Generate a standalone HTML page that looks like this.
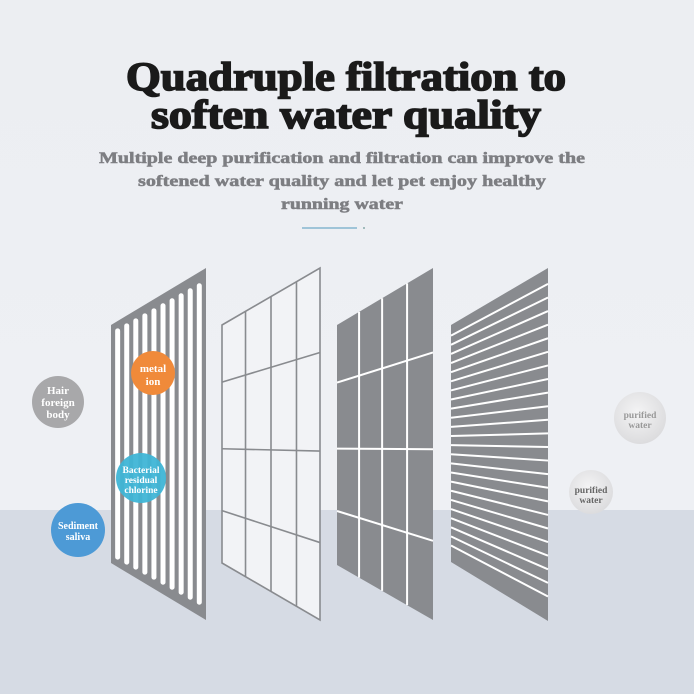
<!DOCTYPE html>
<html><head><meta charset="utf-8">
<style>
html,body{margin:0;padding:0;width:694px;height:694px;overflow:hidden;background:#eef0f4}
svg{display:block}
</style></head><body>
<svg id="s" width="694" height="694" viewBox="0 0 694 694" xmlns="http://www.w3.org/2000/svg">
<defs>
<linearGradient id="bg" x1="0" y1="0" x2="0" y2="1">
<stop offset="0" stop-color="#eceef2"/><stop offset="1" stop-color="#eff1f5"/>
</linearGradient>
<radialGradient id="gw" cx="0.45" cy="0.4" r="0.6"><stop offset="0" stop-color="#f4f4f5"/><stop offset="1" stop-color="#dcdcde"/></radialGradient>
</defs>
<rect width="694" height="694" fill="url(#bg)"/>
<rect x="0" y="510" width="694" height="184" fill="#d6dbe4"/>
<g font-family="Liberation Serif, serif" font-weight="bold" text-anchor="middle">
<text x="346" y="90" font-size="40" fill="#1a1a1a" stroke="#1a1a1a" stroke-width="1.6" textLength="440" lengthAdjust="spacingAndGlyphs">Quadruple filtration to</text>
<text x="346" y="128" font-size="40" fill="#1a1a1a" stroke="#1a1a1a" stroke-width="1.6" textLength="390" lengthAdjust="spacingAndGlyphs">soften water quality</text>
<text x="342" y="163" font-size="15.5" fill="#7d7e82" stroke="#7d7e82" stroke-width="0.5" textLength="486" lengthAdjust="spacingAndGlyphs">Multiple deep purification and filtration can improve the</text>
<text x="342" y="186" font-size="15.5" fill="#7d7e82" stroke="#7d7e82" stroke-width="0.5" textLength="408" lengthAdjust="spacingAndGlyphs">softened water quality and let pet enjoy healthy</text>
<text x="342" y="209" font-size="15.5" fill="#7d7e82" stroke="#7d7e82" stroke-width="0.5" textLength="122" lengthAdjust="spacingAndGlyphs">running water</text>
</g>
<line x1="302" y1="228" x2="357" y2="228" stroke="#9fc4d8" stroke-width="2"/>
<circle cx="364" cy="228" r="1" fill="#8aa"/>
<g id="panels"></g>
<g font-family="Liberation Serif, serif" font-weight="bold" text-anchor="middle">
<circle cx="58" cy="402" r="26" fill="#a8a8aa"/>
<text x="58" y="394" font-size="11" fill="#fff">Hair</text>
<text x="58" y="406" font-size="11" fill="#fff">foreign</text>
<text x="58" y="418" font-size="11" fill="#fff">body</text>
<circle cx="153" cy="373" r="22" fill="#f08a3a"/>
<text x="153" y="372" font-size="11" fill="#fff">metal</text>
<text x="153" y="385" font-size="11" fill="#fff">ion</text>
<circle cx="141" cy="478" r="25" fill="#3fb5d6" opacity="0.95"/>
<text x="141" y="473" font-size="9.5" fill="#fff">Bacterial</text>
<text x="141" y="483" font-size="9.5" fill="#fff">residual</text>
<text x="141" y="493" font-size="9.5" fill="#fff">chlorine</text>
<circle cx="78" cy="530" r="27" fill="#4d9ad6"/>
<text x="78" y="529" font-size="10" fill="#fff">Sediment</text>
<text x="78" y="540" font-size="10" fill="#fff">saliva</text>
<circle cx="640" cy="418" r="26" fill="url(#gw)"/>
<text x="640" y="418" font-size="9.5" fill="#999">purified</text>
<text x="640" y="428" font-size="9.5" fill="#999">water</text>
<circle cx="591" cy="492" r="22" fill="url(#gw)"/>
<text x="591" y="493" font-size="9.5" fill="#666">purified</text>
<text x="591" y="503" font-size="9.5" fill="#666">water</text>
</g>
</svg>
<script>
(function(){
var g=document.getElementById('panels'),NS='http://www.w3.org/2000/svg';
function P(p,u,v){var ly=p.lt+(p.lb-p.lt)*v,ry=p.rt+(p.rb-p.rt)*v;return [p.l+(p.r-p.l)*u, ly+(ry-ly)*u];}
function el(n,a){var e=document.createElementNS(NS,n);for(var k in a)e.setAttribute(k,a[k]);g.appendChild(e);return e;}
function quad(p,fill,stroke,sw){var a=P(p,0,0),b=P(p,1,0),c=P(p,1,1),d=P(p,0,1);
el('polygon',{points:[a,b,c,d].map(function(q){return q.join(',')}).join(' '),fill:fill,stroke:stroke||'none','stroke-width':sw||0});}
function ln(p,u1,v1,u2,v2,col,w,cap){var a=P(p,u1,v1),b=P(p,u2,v2);el('line',{x1:a[0],y1:a[1],x2:b[0],y2:b[1],stroke:col,'stroke-width':w,'stroke-linecap':cap||'butt'});}
var gray='#898b8f';
var p1={l:111,r:206,lt:325,lb:563,rt:268,rb:620};
quad(p1,gray);
for(var i=0;i<10;i++){var u=0.07+i*0.0955;ln(p1,u,0.04,u,0.96,'#fff',5,'round');}
var p2={l:222,r:320,lt:325,lb:563,rt:268,rb:620};
quad(p2,'#f2f3f6',gray,1.6);
[0.24,0.5,0.76].forEach(function(u){ln(p2,u,0,u,1,gray,1.6);});
[0.24,0.52,0.78].forEach(function(v){ln(p2,0,v,1,v,gray,1.6);});
var p3={l:337,r:433,lt:325,lb:565,rt:268,rb:620};
quad(p3,gray);
[0.23,0.47,0.73].forEach(function(u){ln(p3,u,0,u,1,'#fff',2);});
[0.24,0.515,0.775].forEach(function(v){ln(p3,0,v,1,v,'#fff',2);});
var p4={l:451,r:548,lt:325,lb:562,rt:268,rb:621};
quad(p4,gray);
for(var j=0;j<24;j++){var v=0.045+j*0.0385;if(v<0.99)ln(p4,0,v,1,v,'#fff',2);}
})();
</script>
</body></html>
